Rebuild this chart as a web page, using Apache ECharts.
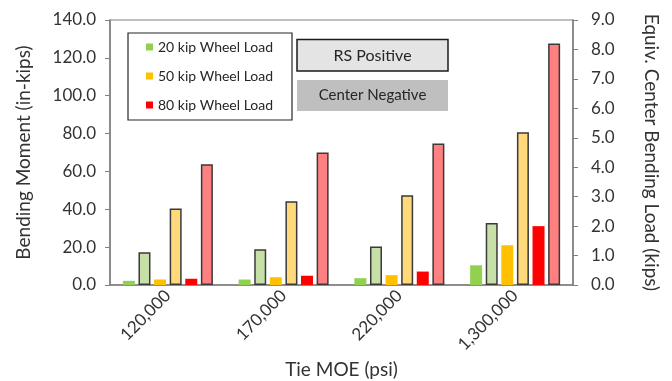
<!DOCTYPE html>
<html>
<head>
<meta charset="utf-8">
<script src="https://cdn.jsdelivr.net/npm/echarts@6/dist/echarts.min.js"></script>
<style>html,body{margin:0;padding:0;background:#fff}#c{width:672px;height:381px}</style>
</head>
<body>
<div id="c"></div>
<script>
const categories = ['120,000', '170,000', '220,000', '1,300,000'];
const cn20 = [2.2, 2.9, 3.6, 10.4];
const rs20 = [17.3, 18.9, 20.4, 32.8];
const cn50 = [2.9, 4.1, 5.2, 21.0];
const rs50 = [40.4, 44.3, 47.4, 80.7];
const cn80 = [3.3, 4.9, 7.1, 31.1];
const rs80 = [63.8, 70.0, 74.7, 127.6];
const leftTicks = { min: 0, max: 140, interval: 20 };
const rightTicks = { min: 0, max: 9, interval: 1 };

const FONT = 'Lato';
const TXT = '#333333';
const AX = '#7f7f7f';
const chart = echarts.init(document.getElementById('c'));

function solid(name, data, color) {
  return { name, type: 'bar', data, barWidth: 12, barGap: '30%',
    itemStyle: { color }, z: 3 };
}
function pattern(name, data, color) {
  return { name, type: 'bar', data, barWidth: 12, barGap: '30%',
    itemStyle: { color, borderColor: '#3a3a3a', borderWidth: 1.5 }, z: 3 };
}

chart.setOption({
  animation: false,
  textStyle: { fontFamily: FONT },
  grid: { left: 110, right: 99, top: 20, bottom: 96, outerBoundsMode: 'none', containLabel: false,
    show: true, borderColor: AX, borderWidth: 1.2, backgroundColor: 'transparent' },
  legend: {
    data: ['20 kip Wheel Load', '50 kip Wheel Load', '80 kip Wheel Load'],
    orient: 'vertical', left: 141, top: 34,
    icon: 'rect', itemWidth: 7, itemHeight: 7, itemGap: 13,
    selectedMode: false,
    textStyle: { fontFamily: FONT, fontSize: 14, color: '#262626', lineHeight: 16 }
  },
  graphic: [
    { type: 'rect', z: -1, shape: { x: 128, y: 33, width: 164, height: 87 },
      style: { fill: '#fff', stroke: '#262626', lineWidth: 1.2 } },
    { type: 'rect', z: -1, shape: { x: 297, y: 39.5, width: 151, height: 31.5 },
      style: { fill: '#e4e4e4', stroke: '#1a1a1a', lineWidth: 1.5 } },
    { type: 'text', z: 5, x: 372.5, y: 55.5,
      style: { text: 'RS Positive', fontFamily: FONT, fontSize: 16, fill: '#262626', align: 'center', verticalAlign: 'middle' } },
    { type: 'rect', z: -1, shape: { x: 297, y: 80, width: 151, height: 31 },
      style: { fill: '#bfbfbf' } },
    { type: 'text', z: 5, x: 372.5, y: 95.5,
      style: { text: 'Center Negative', fontFamily: FONT, fontSize: 15, fill: '#262626', align: 'center', verticalAlign: 'middle' } }
  ],
  xAxis: {
    type: 'category', data: categories,
    name: 'Tie MOE (psi)', nameLocation: 'middle', nameGap: 75,
    nameTextStyle: { fontFamily: FONT, fontSize: 19, color: TXT },
    axisLine: { lineStyle: { color: AX, width: 1.5 } },
    axisTick: { show: false },
    axisLabel: { rotate: 45, fontSize: 17, color: TXT, margin: 8, fontFamily: FONT }
  },
  yAxis: [
    { type: 'value', position: 'left', min: leftTicks.min, max: leftTicks.max, interval: leftTicks.interval,
      name: 'Bending Moment (in-kips)', nameLocation: 'middle', nameGap: 77,
      nameTextStyle: { fontFamily: FONT, fontSize: 19, color: TXT },
      axisLine: { show: true, lineStyle: { color: AX, width: 1.5 } },
      axisTick: { show: true, inside: false, length: 5, lineStyle: { color: AX } },
      splitLine: { show: false },
      axisLabel: { fontSize: 17, color: TXT, margin: 14, fontFamily: FONT, formatter: v => v.toFixed(1) } },
    { type: 'value', position: 'right', min: rightTicks.min, max: rightTicks.max, interval: rightTicks.interval,
      name: 'Equiv. Center Bending Load (kips)', nameLocation: 'middle', nameGap: 69, nameRotate: -90,
      nameTextStyle: { fontFamily: FONT, fontSize: 19, color: TXT },
      axisLine: { show: true, lineStyle: { color: AX, width: 1.5 } },
      axisTick: { show: true, inside: false, length: 5, lineStyle: { color: AX } },
      splitLine: { show: false },
      axisLabel: { fontSize: 17, color: TXT, margin: 18, fontFamily: FONT, formatter: v => v.toFixed(1) } }
  ],
  series: [
    solid('20 kip Wheel Load', cn20, '#92d050'),
    pattern('20 kip Wheel Load - RS Positive', rs20, '#c6e0a8'),
    solid('50 kip Wheel Load', cn50, '#ffc000'),
    pattern('50 kip Wheel Load - RS Positive', rs50, '#ffd97a'),
    solid('80 kip Wheel Load', cn80, '#ff0000'),
    pattern('80 kip Wheel Load - RS Positive', rs80, '#ff8080')
  ]
});
</script>
</body>
</html>
